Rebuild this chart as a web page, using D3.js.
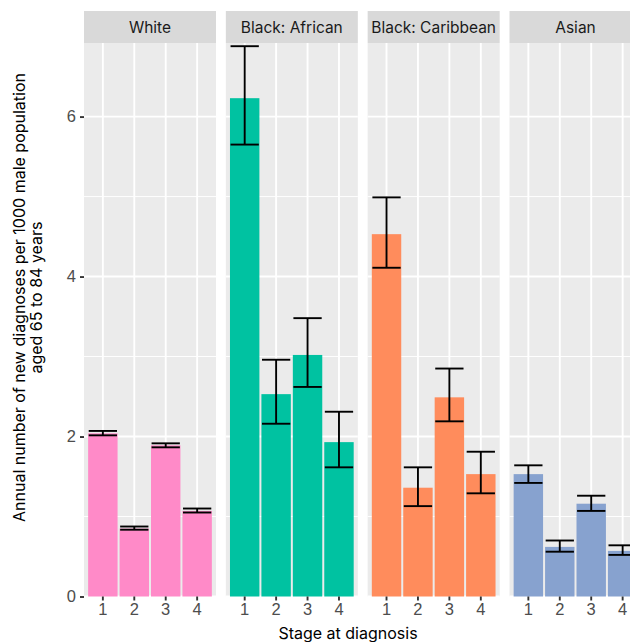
<!DOCTYPE html>
<html>
<head>
<meta charset="utf-8">
<script src="https://cdn.jsdelivr.net/npm/d3@7"></script>
<style>
    body { margin: 0; background: #fff; overflow: hidden; }
    svg { display: block; font-family: Inter, "Noto Sans", sans-serif; }
</style>
</head>
<body>
<svg id="chart" width="630" height="642"></svg>
<script>
// Chart data
var GROUPS = ["White", "Black: African", "Black: Caribbean", "Asian"];
var STAGES = ["1", "2", "3", "4"];
var GROUP_COLORS = ["#FF8AC8", "#00C2A1", "#FF8C5C", "#87A2CF"];
var RATE = [
    [2.04, 0.85, 1.89, 1.07],
    [6.23, 2.53, 3.02, 1.93],
    [4.53, 1.36, 2.49, 1.53],
    [1.53, 0.62, 1.16, 0.57]
];
var RATE_LOWER = [
    [2.015, 0.835, 1.865, 1.05],
    [5.65, 2.16, 2.62, 1.615],
    [4.11, 1.13, 2.19, 1.29],
    [1.42, 0.56, 1.07, 0.52]
];
var RATE_UPPER = [
    [2.07, 0.875, 1.915, 1.10],
    [6.88, 2.96, 3.48, 2.31],
    [4.99, 1.615, 2.85, 1.81],
    [1.64, 0.70, 1.26, 0.64]
];
var Y_TICKS = [0, 2, 4, 6];
var Y_MINOR = [1, 3, 5];

// Layout
var PANEL_LEFT = 84;
var PANEL_RIGHT = 641.5;
var PANEL_TOP = 43;
var PANEL_BOTTOM = 596.5;
var STRIP_TOP = 11;
var TICK_LEN = 4;
var STRIP_FONT = 15.5;
var TICK_FONT = 16.5;
var TITLE_FONT = 16;
var PANEL_BG = "#EBEBEB";
var STRIP_BG = "#D9D9D9";
var AXIS_TEXT_COLOR = "#4D4D4D";
var TICK_COLOR = "#333333";

var svg = d3.select("#chart");

var facetScale = d3.scaleBand()
    .domain(GROUPS)
    .range([PANEL_LEFT, PANEL_RIGHT])
    .paddingInner(0.0693)
    .paddingOuter(0);
var panelWidth = facetScale.bandwidth();

var xScale = d3.scaleBand()
    .domain(STAGES)
    .range([0, panelWidth])
    .paddingInner(0)
    .paddingOuter(0.1);

var yScale = d3.scaleLinear()
    .domain([0, 6.92])
    .range([PANEL_BOTTOM, PANEL_TOP]);

var step = xScale.bandwidth();

GROUPS.forEach(function(g, gi) {
    var panel = svg.append("g")
        .attr("transform", "translate(" + facetScale(g) + ",0)");

    // Render panel background and strip
    panel.append("rect")
        .attr("x", 0)
        .attr("y", PANEL_TOP)
        .attr("width", panelWidth)
        .attr("height", PANEL_BOTTOM - PANEL_TOP)
        .attr("fill", PANEL_BG);
    panel.append("rect")
        .attr("x", 0)
        .attr("y", STRIP_TOP)
        .attr("width", panelWidth)
        .attr("height", PANEL_TOP - STRIP_TOP)
        .attr("fill", STRIP_BG);
    panel.append("text")
        .attr("x", panelWidth / 2)
        .attr("y", (STRIP_TOP + PANEL_TOP) / 2 + 5.6)
        .attr("text-anchor", "middle")
        .attr("font-size", STRIP_FONT)
        .attr("fill", "#1A1A1A")
        .text(g);

    // Render gridlines
    panel.selectAll(".minor")
        .data(Y_MINOR)
        .enter()
        .append("line")
        .attr("x1", 0)
        .attr("x2", panelWidth)
        .attr("y1", d => yScale(d))
        .attr("y2", d => yScale(d))
        .attr("stroke", "#fff")
        .attr("stroke-width", 0.95);
    panel.selectAll(".major")
        .data(Y_TICKS)
        .enter()
        .append("line")
        .attr("x1", 0)
        .attr("x2", panelWidth)
        .attr("y1", d => yScale(d))
        .attr("y2", d => yScale(d))
        .attr("stroke", "#fff")
        .attr("stroke-width", 1.9);
    panel.selectAll(".vgrid")
        .data(STAGES)
        .enter()
        .append("line")
        .attr("x1", d => xScale(d) + step / 2)
        .attr("x2", d => xScale(d) + step / 2)
        .attr("y1", PANEL_TOP)
        .attr("y2", PANEL_BOTTOM)
        .attr("stroke", "#fff")
        .attr("stroke-width", 1.9);

    // Render bars
    panel.selectAll(".bar")
        .data(RATE[gi])
        .enter()
        .append("rect")
        .attr("x", (d, i) => xScale(STAGES[i]) + 1)
        .attr("y", d => yScale(d))
        .attr("width", step - 2)
        .attr("height", d => PANEL_BOTTOM - yScale(d))
        .attr("fill", GROUP_COLORS[gi]);

    // Render error bars
    var ew = step * 0.9;
    var eb = panel.selectAll(".err")
        .data(RATE[gi])
        .enter()
        .append("g")
        .attr("stroke", "#000")
        .attr("stroke-width", 1.9);
    eb.append("line")
        .attr("x1", (d, i) => xScale(STAGES[i]) + step / 2)
        .attr("x2", (d, i) => xScale(STAGES[i]) + step / 2)
        .attr("y1", (d, i) => yScale(RATE_LOWER[gi][i]))
        .attr("y2", (d, i) => yScale(RATE_UPPER[gi][i]));
    eb.append("line")
        .attr("x1", (d, i) => xScale(STAGES[i]) + (step - ew) / 2)
        .attr("x2", (d, i) => xScale(STAGES[i]) + (step + ew) / 2)
        .attr("y1", (d, i) => yScale(RATE_LOWER[gi][i]))
        .attr("y2", (d, i) => yScale(RATE_LOWER[gi][i]));
    eb.append("line")
        .attr("x1", (d, i) => xScale(STAGES[i]) + (step - ew) / 2)
        .attr("x2", (d, i) => xScale(STAGES[i]) + (step + ew) / 2)
        .attr("y1", (d, i) => yScale(RATE_UPPER[gi][i]))
        .attr("y2", (d, i) => yScale(RATE_UPPER[gi][i]));

    // Render x axis
    var xAxis = panel.append("g")
        .attr("transform", "translate(0," + PANEL_BOTTOM + ")")
        .call(d3.axisBottom(xScale).tickSize(TICK_LEN).tickPadding(3));
    xAxis.select(".domain").remove();
    xAxis.selectAll(".tick line")
        .attr("stroke", TICK_COLOR)
        .attr("stroke-width", 1.9);
    xAxis.selectAll(".tick text")
        .attr("font-size", TICK_FONT)
        .attr("fill", AXIS_TEXT_COLOR);
});

// Render y axis
var yAxis = svg.append("g")
    .attr("transform", "translate(" + PANEL_LEFT + ",0)")
    .call(d3.axisLeft(yScale).tickValues(Y_TICKS).tickFormat(d3.format("d"))
        .tickSize(TICK_LEN).tickPadding(4));
yAxis.select(".domain").remove();
yAxis.selectAll(".tick line")
    .attr("stroke", TICK_COLOR)
    .attr("stroke-width", 1.9);
yAxis.selectAll(".tick text")
    .attr("font-size", TICK_FONT)
    .attr("fill", AXIS_TEXT_COLOR);

// Render axis titles
var yTitle = svg.append("text")
    .attr("transform", "translate(25,297.5) rotate(-90)")
    .attr("text-anchor", "middle")
    .attr("font-size", TITLE_FONT)
    .attr("fill", "#000");
yTitle.append("tspan")
    .attr("x", 0)
    .attr("dy", 0)
    .text("Annual number of new diagnoses per 1000 male population");
yTitle.append("tspan")
    .attr("x", 0)
    .attr("dy", 17)
    .text("aged 65 to 84 years");

svg.append("text")
    .attr("x", 348)
    .attr("y", 639)
    .attr("text-anchor", "middle")
    .attr("font-size", TITLE_FONT)
    .attr("fill", "#000")
    .text("Stage at diagnosis");
</script>
</body>
</html>
